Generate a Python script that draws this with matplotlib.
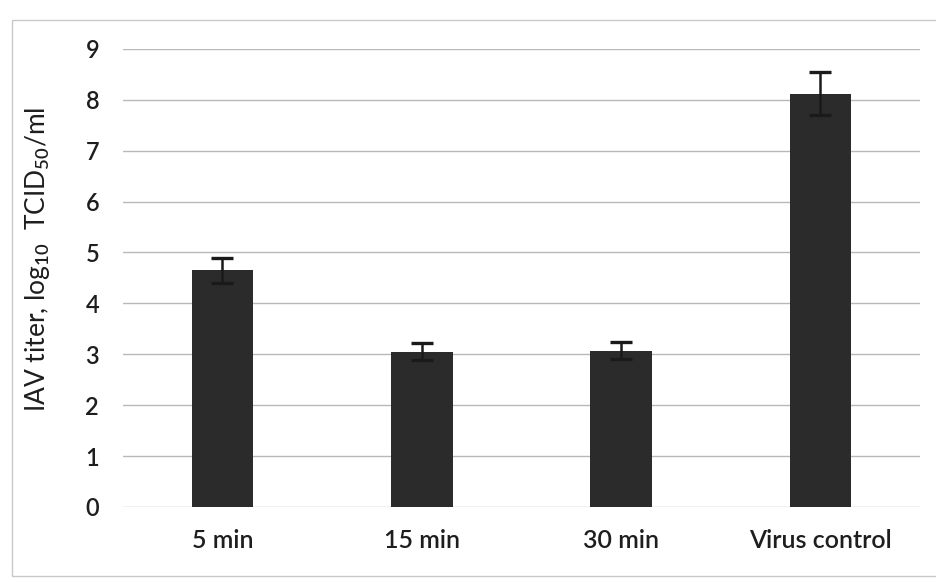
import matplotlib
matplotlib.use("Agg")
import matplotlib.pyplot as plt
from matplotlib.patches import Rectangle

# Influenza A virus titer after different exposure times
categories = ["5 min", "15 min", "30 min", "Virus control"]
titers = [4.65, 3.05, 3.07, 8.12]
errors = [0.25, 0.17, 0.17, 0.42]
y_ticks = [0, 1, 2, 3, 4, 5, 6, 7, 8, 9]

plt.rcParams["font.family"] = ["Lato", "DejaVu Sans"]
plt.rcParams["font.weight"] = "semibold"
plt.rcParams["mathtext.fontset"] = "custom"
plt.rcParams["mathtext.rm"] = "Lato:semibold"
plt.rcParams["mathtext.it"] = "Lato:italic"
plt.rcParams["mathtext.bf"] = "Lato:bold"

fig = plt.figure(figsize=(9.37, 5.82), dpi=100)
ax = fig.add_axes([0.131, 0.129, 0.851, 0.787])

x = range(len(categories))
ax.bar(x, titers, width=0.31, color="#2b2b2b", zorder=3,
       yerr=errors, error_kw=dict(ecolor="#1a1a1a", elinewidth=1.8,
                                  capsize=8, capthick=2.4, zorder=4))

ax.set_ylim(0, 9)
ax.set_xlim(-0.5, len(categories) - 0.5)
ax.set_yticks(y_ticks)
ax.set_xticks(list(x))
ax.set_xticklabels(categories, fontsize=18, color="#1e1e1e")
ax.tick_params(axis="y", labelsize=17, colors="#1e1e1e", length=0, pad=17)
ax.tick_params(axis="x", length=0, pad=16)
ax.yaxis.grid(True, color="#b8b8b8", linewidth=1.0, zorder=0)
ax.set_axisbelow(True)
for s in ax.spines.values():
    s.set_visible(False)

ax.set_ylabel(r"IAV titer, log$_{10}$  TCID$_{50}$/ml", fontsize=19,
              color="#1e1e1e")
ax.yaxis.set_label_coords(-0.089, 0.54)

# thin chart-area border
fig.patches.append(Rectangle((12 / 937, 1 - 576 / 582), 930 / 937, 556 / 582,
                             transform=fig.transFigure, fill=False,
                             edgecolor="#c8c8c8", linewidth=1.0))

fig.savefig("out.png", dpi=100, facecolor="white")
